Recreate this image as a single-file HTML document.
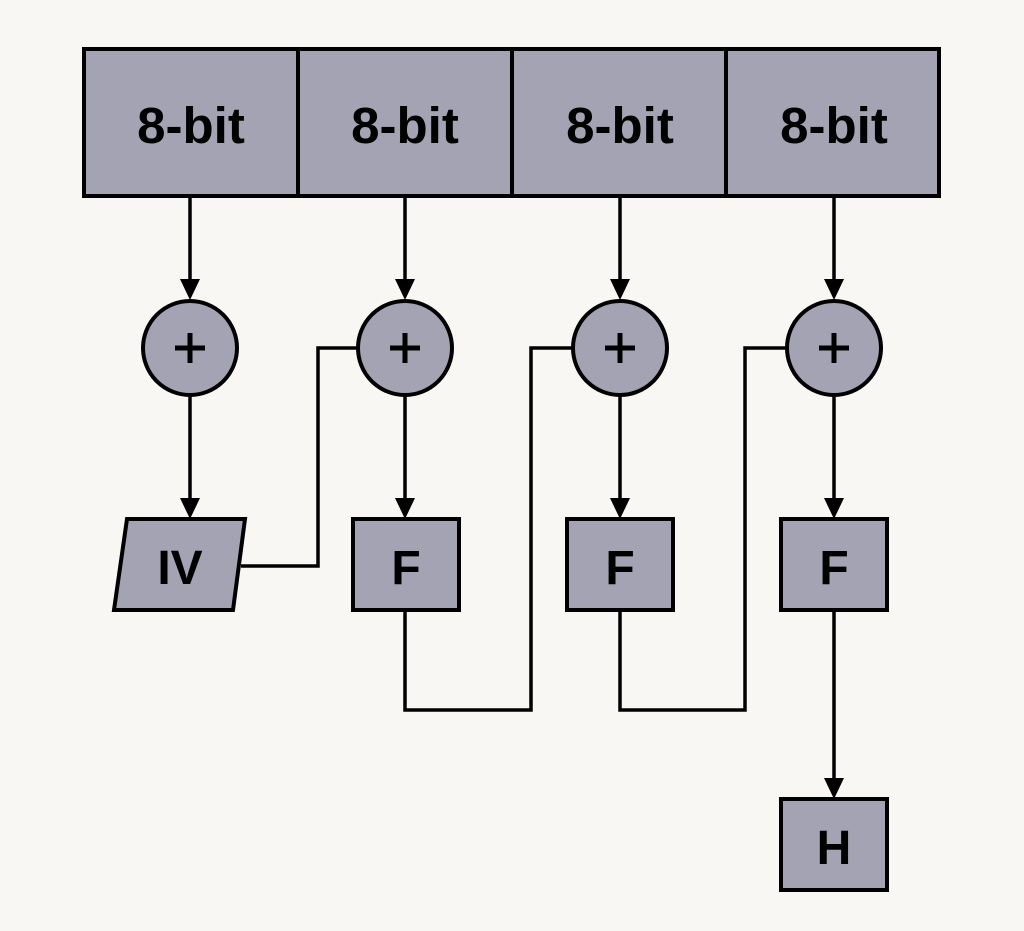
<!DOCTYPE html>
<html><head><style>html,body{margin:0;padding:0;background:#f9f7f4;}</style></head>
<body>
<svg width="1024" height="926" xmlns="http://www.w3.org/2000/svg">
<g stroke="#000" stroke-width="4" fill="#a3a3b3">
<rect x="84" y="49" width="855" height="147"/>
<line x1="298" y1="49" x2="298" y2="196"/><line x1="512" y1="49" x2="512" y2="196"/><line x1="726" y1="49" x2="726" y2="196"/>
<circle cx="190" cy="348" r="47"/><circle cx="405" cy="348" r="47"/><circle cx="620" cy="348" r="47"/><circle cx="834" cy="348" r="47"/>
<polygon points="127,519 245,519 233,610 114,610"/>
<rect x="353" y="519" width="106" height="91"/><rect x="567" y="519" width="106" height="91"/><rect x="781" y="519" width="106" height="91"/>
<rect x="781" y="799" width="106" height="91"/>
</g>
<g stroke="#000" stroke-width="3.5" fill="none">
<path d="M190,196 V280 M405,196 V280 M620,196 V280 M834,196 V280 M190,395 V500 M405,395 V500 M620,395 V500 M834,395 V500 M834,610 V780"/>
<path d="M241,566 H318 V348 H358 M405,610 V710 H531 V348 H573 M620,610 V710 H745 V348 H787"/>
</g>
<g stroke="#000" stroke-width="5" fill="none">
<path d="M175,348 H205 M190,333 V363 M390,348 H420 M405,333 V363 M605,348 H635 M620,333 V363 M819,348 H849 M834,333 V363"/>
</g>
<g fill="#000">
<path d="M180,279 L200,279 L190,300 Z"/><path d="M395,279 L415,279 L405,300 Z"/><path d="M610,279 L630,279 L620,300 Z"/><path d="M824,279 L844,279 L834,300 Z"/>
<path d="M180,498 L200,498 L190,519 Z"/><path d="M395,498 L415,498 L405,519 Z"/><path d="M610,498 L630,498 L620,519 Z"/><path d="M824,498 L844,498 L834,519 Z"/>
<path d="M824,778 L844,778 L834,799 Z"/>
</g>
<g font-family="Liberation Sans, sans-serif" font-weight="bold" text-anchor="middle" fill="#000">
<g font-size="51"><text x="191" y="143">8-bit</text><text x="405" y="143">8-bit</text><text x="620" y="143">8-bit</text><text x="834" y="143">8-bit</text></g>
<g font-size="48"><text x="180" y="584">IV</text><text x="406" y="584">F</text><text x="620" y="584">F</text><text x="834" y="584">F</text><text x="834" y="864">H</text></g>
</g>
</svg>
</body></html>
